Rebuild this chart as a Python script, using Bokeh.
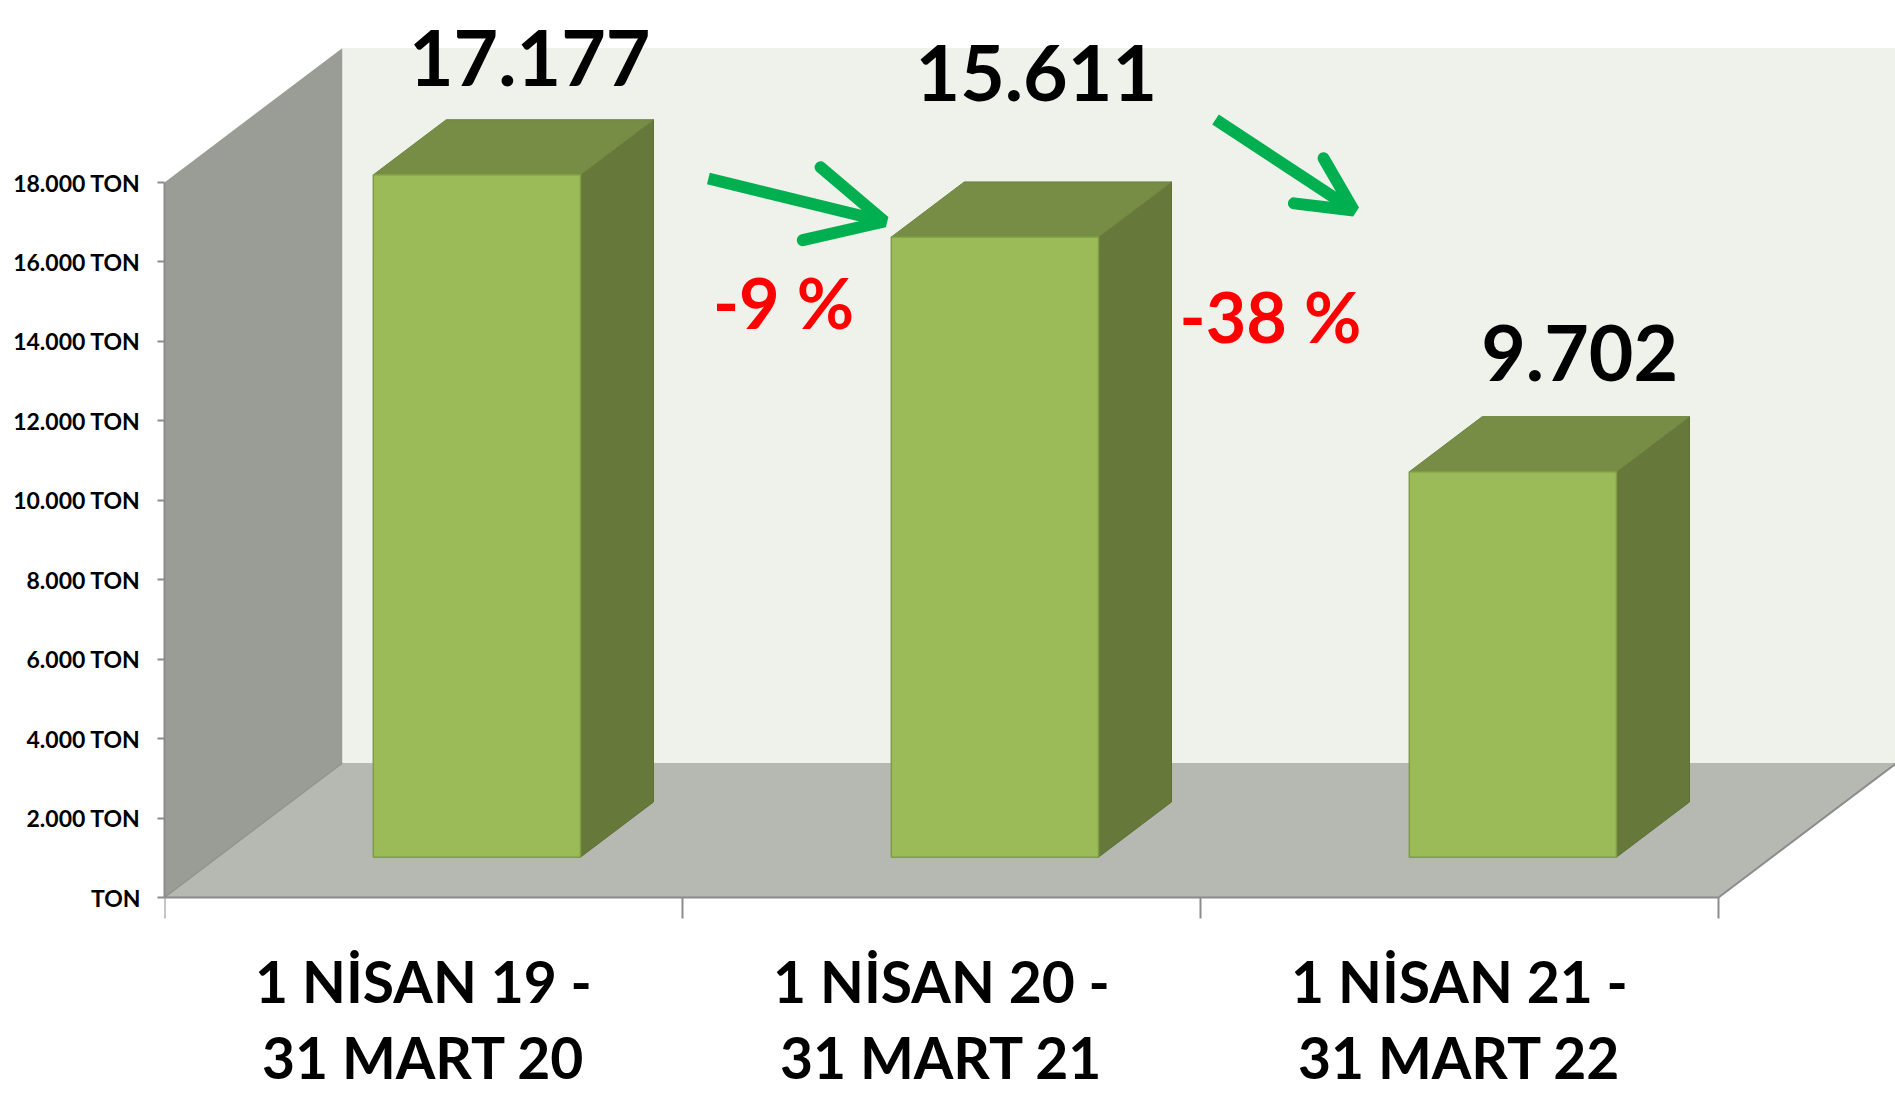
from bokeh.plotting import figure
from bokeh.models import Range1d, FixedTicker, Arrow, OpenHead, ColumnDataSource
from bokeh.embed import file_html
from bokeh.resources import INLINE
from bokeh.core.properties import value

# ---------------- data ----------------
categories = ["1 NİSAN 19 -\n31 MART 20", "1 NİSAN 20 -\n31 MART 21", "1 NİSAN 21 -\n31 MART 22"]
tons = [17177, 15611, 9702]
value_labels = ["17.177", "15.611", "9.702"]
change_labels = ["-9 %", "-38 %"]
y_ticks = [0, 2000, 4000, 6000, 8000, 10000, 12000, 14000, 16000, 18000]
y_tick_labels = ["TON", "2.000 TON", "4.000 TON", "6.000 TON", "8.000 TON",
                 "10.000 TON", "12.000 TON", "14.000 TON", "16.000 TON", "18.000 TON"]

# ---------------- layout ----------------
W, H = 1895, 1093
LEFT = 164
PX_CAT = 518.0
PX_TON = 715.0 / 18000
ZERO_Y = 897
DEPTH_DX = 178.0 / PX_CAT
DEPTH_DY = 134.5 / PX_TON
WALL_TOP = max(y_ticks)
N = len(categories)
BAR_LO, BAR_HI = 0.3, 0.7
D_FRONT, D_BACK = 0.3, 0.71
BASE_FIX = 0.39  # em, baseline correction

label_dx = [0.705, 0.683, 0.732]
label_raise_px = [87, 134, 89]
change_dx = [0.195, 0.135]
change_base_px = [568, 554]
arrow_tail = [(1.050, 719), (2.029, 778)]
arrow_tip = [(1.390, 676), (2.296, 687)]
arrow_head = [75, 54]
cat_line_px = [106, 182]
VAL_FS, CHG_FS, CAT_FS = 77, 70, 57

FONT = value("Lato")
C_FRONT, C_TOP, C_SIDE = "#9BBB59", "#778D45", "#66793A"
C_LWALL, C_BWALL, C_FLOOR = "#9A9C96", "#EFF2EB", "#B6B9B2"
C_EDGE = "#8C8C8C"
C_ARROW, C_RED = "#00B050", "#FF0000"


def px(v):
    return v / PX_TON


def proj(pts):
    xs = [x + d * DEPTH_DX for x, v, d in pts]
    ys = [v + d * DEPTH_DY for x, v, d in pts]
    return xs, ys


p = figure(width=W, height=H,
           x_range=Range1d(0, (W - LEFT) / PX_CAT),
           y_range=Range1d(-(H - ZERO_Y) / PX_TON, ZERO_Y / PX_TON),
           output_backend="svg", toolbar_location=None, x_axis_location=None,
           min_border_left=LEFT, min_border_right=0, min_border_top=0, min_border_bottom=0)
p.grid.visible = False
p.outline_line_color = None
p.background_fill_color = "white"
p.border_fill_color = "white"

# walls and floor
walls = [
    ([(0, 0, 0), (0, WALL_TOP, 0), (0, WALL_TOP, 1), (0, 0, 1)], C_LWALL),
    ([(0, 0, 1), (0, WALL_TOP, 1), (N, WALL_TOP, 1), (N, 0, 1)], C_BWALL),
    ([(0, 0, 0), (N, 0, 0), (N, 0, 1), (0, 0, 1)], C_FLOOR),
]
for pts, col in walls:
    xs, ys = proj(pts)
    p.patch(xs, ys, fill_color=col, line_color=None)

# floor edges
ex, ey = proj([(0, 0, 0), (0, 0, 1)])
p.line(ex, ey, line_color="#8F918B", line_width=1.2)
ex, ey = proj([(0, 0, 0), (N, 0, 0), (N, 0, 1)])
p.line(ex, ey, line_color=C_EDGE, line_width=2)
# category boundary ticks
bx = list(range(N + 1))
p.segment(x0=bx, y0=[0] * len(bx), x1=bx, y1=[-px(21)] * len(bx), line_color=C_EDGE, line_width=2)

# bars
side_xs, side_ys, top_xs, top_ys, fr_xs, fr_ys = [], [], [], [], [], []
for i, v in enumerate(tons):
    a, b = i + BAR_LO, i + BAR_HI
    xs, ys = proj([(b, 0, D_FRONT), (b, v, D_FRONT), (b, v, D_BACK), (b, 0, D_BACK)])
    side_xs.append(xs); side_ys.append(ys)
    xs, ys = proj([(a, v, D_FRONT), (b, v, D_FRONT), (b, v, D_BACK), (a, v, D_BACK)])
    top_xs.append(xs); top_ys.append(ys)
    xs, ys = proj([(a, 0, D_FRONT), (b, 0, D_FRONT), (b, v, D_FRONT), (a, v, D_FRONT)])
    fr_xs.append(xs); fr_ys.append(ys)
p.patches(side_xs, side_ys, fill_color=C_SIDE, line_color="#5E7036", line_width=1)
p.patches(top_xs, top_ys, fill_color=C_TOP, line_color="#6F8640", line_width=1)
p.patches(fr_xs, fr_ys, fill_color=C_FRONT, line_color="#7E9D45", line_width=1.5)

# y axis
ax = p.yaxis[0]
ax.ticker = FixedTicker(ticks=y_ticks)
ax.major_label_overrides = {t: s for t, s in zip(y_ticks, y_tick_labels)}
ax.bounds = (0, WALL_TOP)
ax.axis_line_color = C_EDGE
ax.axis_line_width = 2
ax.major_tick_line_color = C_EDGE
ax.major_tick_line_width = 2
ax.major_tick_out = 7
ax.major_tick_in = 0
ax.minor_tick_line_color = None
ax.major_label_standoff = 17
ax.major_label_text_font = "Lato"
ax.major_label_text_font_style = "bold"
ax.major_label_text_font_size = "23px"
ax.major_label_text_color = "black"

# value labels
vsrc = ColumnDataSource(dict(
    x=[i + dx for i, dx in enumerate(label_dx)],
    y=[v + D_FRONT * DEPTH_DY + px(r + BASE_FIX * VAL_FS) for v, r in zip(tons, label_raise_px)],
    t=value_labels))
p.text(x="x", y="y", text="t", source=vsrc, text_font=FONT, text_font_style="bold",
       text_font_size=f"{VAL_FS}px", text_color="black", text_align="center", text_baseline="alphabetic")

# change labels
csrc = ColumnDataSource(dict(
    x=[i + 1 + dx for i, dx in enumerate(change_dx)],
    y=[px(b + BASE_FIX * CHG_FS) for b in change_base_px],
    t=change_labels))
p.text(x="x", y="y", text="t", source=csrc, text_font=FONT, text_font_style="bold",
       text_font_size=f"{CHG_FS}px", text_color=C_RED, text_align="center", text_baseline="alphabetic")

# arrows
for (tx, ty), (hx, hy), hs in zip(arrow_tail, arrow_tip, arrow_head):
    p.add_layout(Arrow(end=OpenHead(size=hs, line_color=C_ARROW, line_width=12, line_cap="round"),
                       x_start=tx, y_start=px(ty), x_end=hx, y_end=px(hy),
                       line_color=C_ARROW, line_width=12))

# category labels
for k in range(2):
    lsrc = ColumnDataSource(dict(
        x=[i + 0.5 for i in range(N)],
        y=[-px(cat_line_px[k] - BASE_FIX * CAT_FS)] * N,
        t=[c.split("\n")[k] for c in categories]))
    p.text(x="x", y="y", text="t", source=lsrc, text_font=FONT, text_font_style="bold",
           text_font_size=f"{CAT_FS}px", text_color="black", text_align="center", text_baseline="alphabetic")

open("out.html", "w").write(file_html(p, INLINE))
